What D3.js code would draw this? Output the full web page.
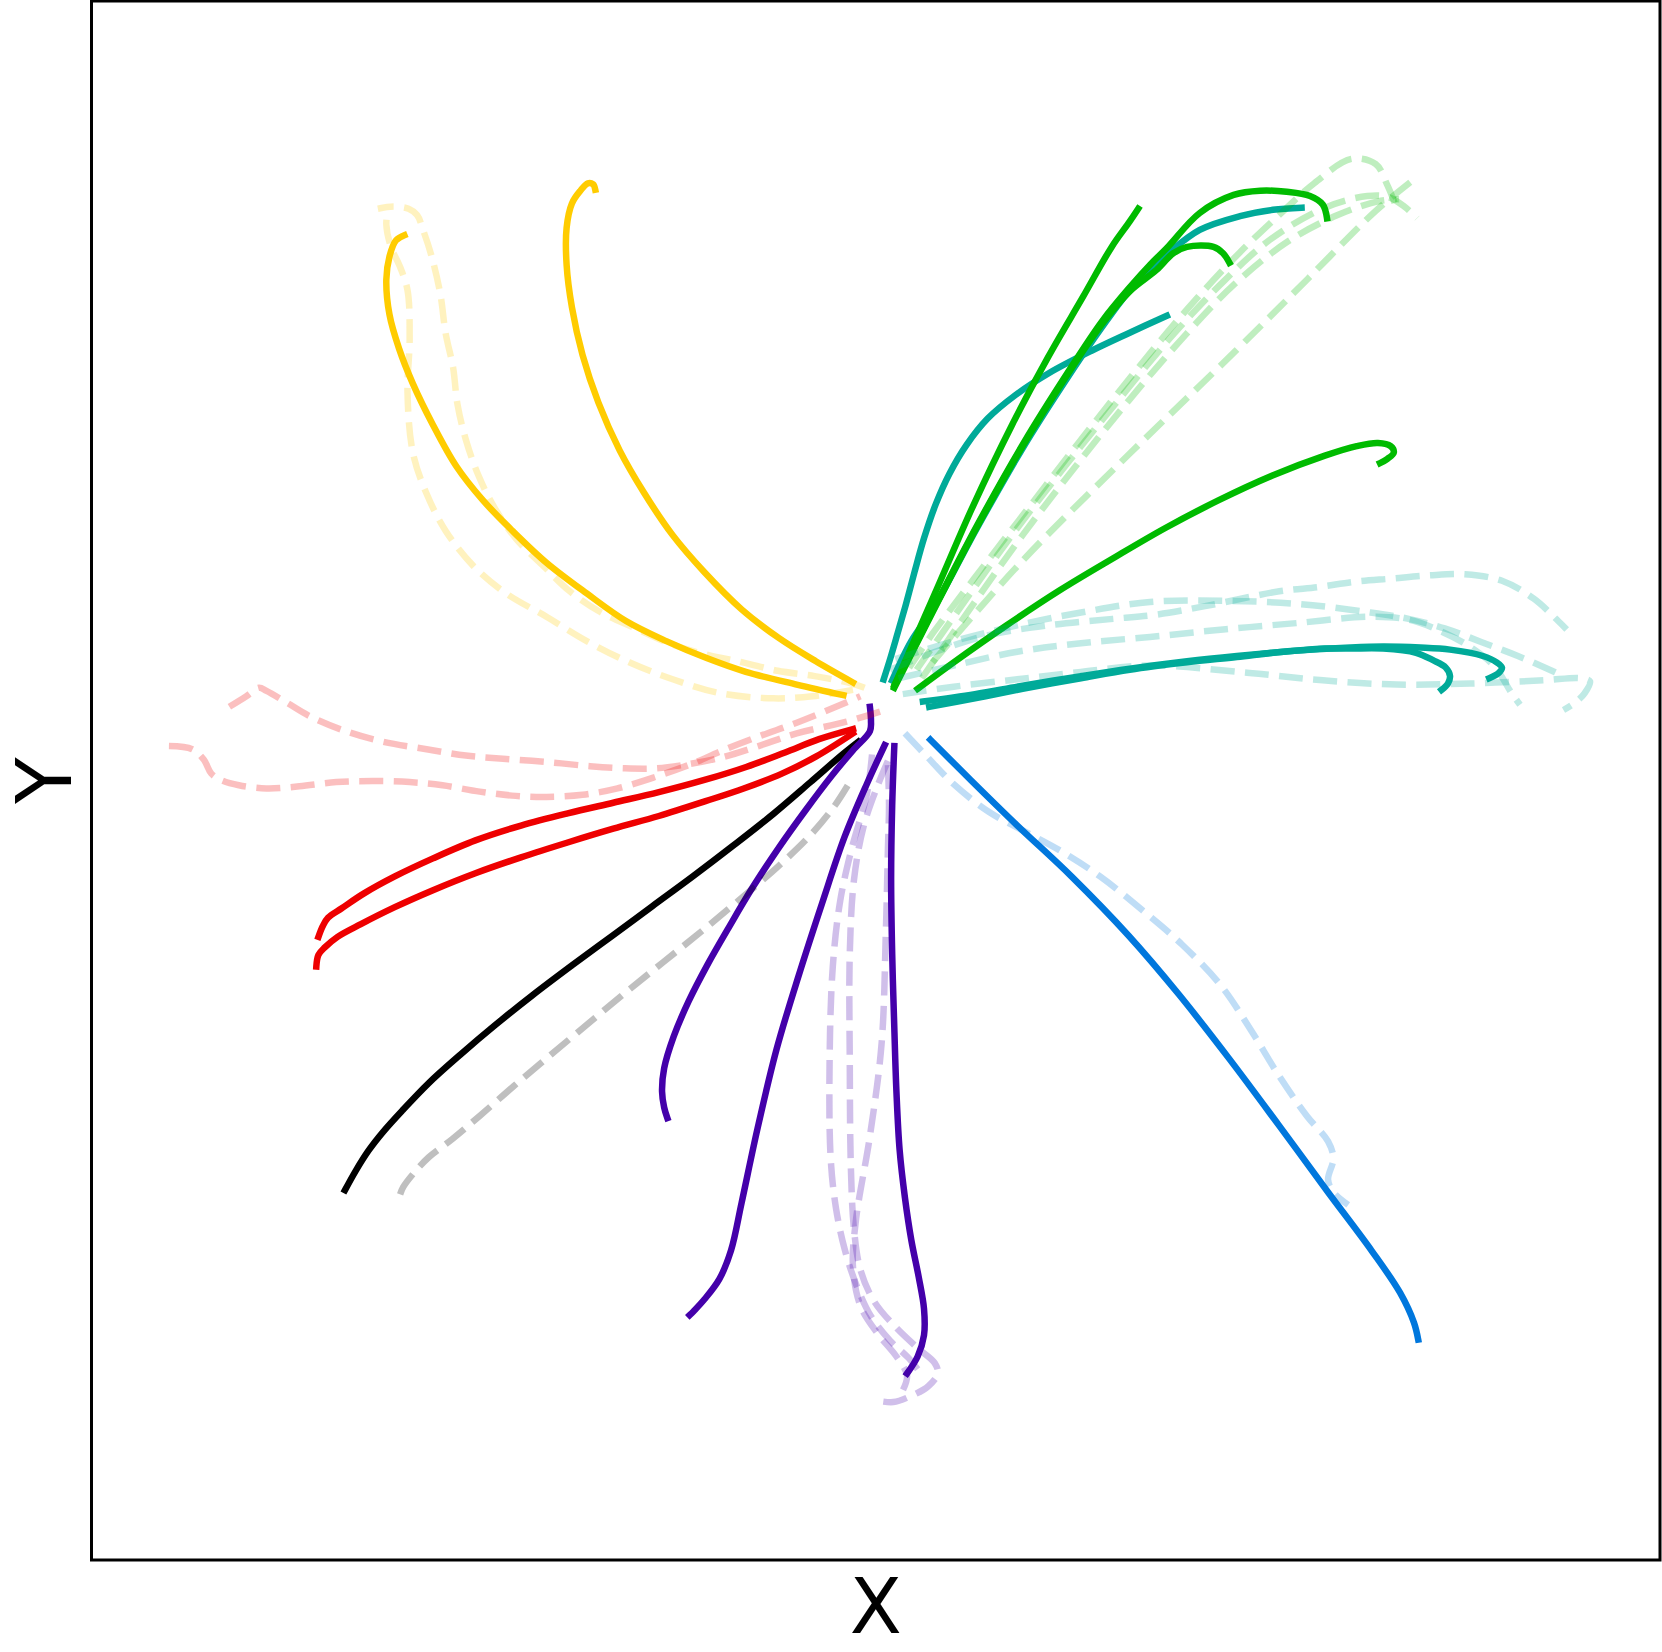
<!DOCTYPE html>
<html><head><meta charset="utf-8">
<script src="https://cdn.jsdelivr.net/npm/d3@7"></script>
<style>body{margin:0;background:#fff}</style>
</head><body>
<svg id="chart" width="1662" height="1652"></svg>
<script>
// ---------- data (arbitrary units, x: 0..147.9, y: 0..147.1) ----------
const yellowA = [[70.9,81.6],[66.5,82.6],[61.7,83.8],[58.0,85.1],[54.2,86.7],[50.4,88.6],[46.7,91.2],[42.9,94.1],[39.7,97.1],[36.9,100.0],[34.4,103.2],[32.2,107.1],[30.3,111.0],[29.0,114.3],[28.1,117.5],[27.8,120.8],[28.1,123.0],[28.7,124.5],[29.5,125.0]];
const yellowB = [[71.8,82.8],[68.3,84.8],[64.8,87.0],[61.3,89.7],[57.8,93.2],[54.8,96.7],[52.1,100.7],[49.8,104.7],[47.8,109.2],[46.3,113.7],[45.3,118.2],[44.8,122.2],[44.8,125.7],[45.3,128.0],[46.1,129.2],[46.8,129.9],[47.3,129.8],[47.5,129.3]];
const yellowD1 = [[71.8,82.1],[68.0,81.5],[64.3,81.3],[59.2,81.8],[54.8,83.1],[50.7,84.7],[46.7,86.7],[42.9,89.0],[39.1,91.2],[36.0,93.8],[33.4,97.1],[31.6,100.6],[30.3,104.5],[29.8,110.1],[30.0,115.3],[29.8,119.8],[29.1,122.0],[28.2,124.0],[27.8,126.0],[27.9,127.1]];
const yellowD2 = [[72.9,82.3],[71.7,82.7],[68.2,83.4],[64.7,83.9],[61.4,84.7],[58.1,85.4],[54.7,86.4],[51.1,88.0],[47.9,89.5],[45.1,91.4],[42.7,93.7],[40.0,96.4],[38.0,99.3],[36.5,102.3],[35.3,105.7],[34.5,109.1],[34.1,112.5],[33.4,115.7],[32.9,119.4],[32.1,122.9],[31.3,125.4],[30.7,126.9],[29.9,127.5],[28.5,127.7],[27.0,127.5]];

const redA = [[21.4,58.8],[21.8,59.8],[22.3,60.6],[23.6,61.5],[25.7,62.9],[28.6,64.5],[32.2,66.2],[36.2,67.9],[40.5,69.3],[44.9,70.45],[49.2,71.45],[53.5,72.45],[57.8,73.6],[61.8,74.85],[65.4,76.2],[68.6,77.45],[71.8,78.4]];
const redB = [[21.2,56.0],[21.4,57.1],[22.0,57.8],[23.2,58.8],[25.4,60.0],[28.6,61.6],[32.2,63.2],[36.2,64.8],[40.5,66.3],[44.9,67.7],[49.2,69.0],[53.5,70.2],[57.9,71.6],[61.5,72.8],[65.1,74.2],[68.3,75.8],[71.8,78.0]];
const redD1 = [[13.0,80.5],[14.6,81.5],[15.8,82.3],[16.5,82.0],[18.4,80.9],[20.6,79.6],[23.7,78.3],[27.5,77.2],[31.6,76.5],[35.3,75.9],[38.8,75.6],[42.9,75.3],[47.0,74.9],[50.3,74.7],[53.2,74.7],[55.7,75.0],[59.3,75.7],[62.9,76.8],[66.5,78.0],[71.2,79.1],[74.5,80.1]];
const redD2 = [[7.3,76.8],[9.5,76.5],[10.6,75.5],[11.3,74.2],[12.2,73.6],[13.9,73.1],[16.5,72.8],[19.6,73.0],[23.1,73.4],[26.5,73.5],[30.0,73.4],[33.1,73.1],[36.6,72.5],[40.0,72.1],[42.9,72.0],[46.3,72.2],[49.6,72.8],[53.2,73.9],[56.8,75.2],[59.3,76.3],[62.9,77.7],[66.5,79.0],[70.2,80.5],[72.5,81.5]];

const blackA = [[23.9,34.9],[24.9,36.7],[26.1,38.6],[27.5,40.4],[29.3,42.4],[31.8,45.0],[34.8,47.7],[38.1,50.5],[41.6,53.3],[45.3,56.1],[49.1,58.9],[52.9,61.7],[56.7,64.5],[60.5,67.4],[64.3,70.4],[67.8,73.4],[70.8,76.0],[72.3,77.2]];
const blackD = [[29.1,34.5],[29.4,35.2],[30.3,36.4],[31.8,38.0],[34.0,39.7],[36.6,41.9],[39.8,44.7],[43.1,47.5],[46.7,50.5],[50.3,53.5],[53.9,56.4],[57.5,59.3],[61.1,62.3],[64.7,65.4],[67.8,68.4],[70.1,71.2],[71.5,73.4]];

const purpleA = [[54.3,41.7],[54.0,42.7],[53.8,44.2],[54.0,46.4],[54.9,49.4],[56.3,52.7],[58.1,56.2],[60.1,59.7],[62.3,63.4],[64.8,67.2],[67.3,70.7],[69.8,74.0],[71.8,76.4],[73.4,78.2],[73.5,79.2],[73.4,80.5]];
const purpleB = [[74.8,76.9],[73.1,73.2],[71.0,68.2],[68.9,62.0],[66.7,55.2],[64.6,48.2],[62.8,40.7],[61.3,33.7],[60.3,29.2],[59.2,26.5],[57.8,24.6],[56.8,23.5],[56.4,23.1]];
const purpleC = [[75.7,76.8],[75.5,71.2],[75.4,64.2],[75.5,57.2],[75.7,50.2],[75.9,44.2],[76.2,38.7],[76.7,34.2],[77.3,30.2],[78.0,26.7],[78.5,23.7],[78.5,21.2],[77.9,19.2],[76.9,17.6]];
const purpleD1 = [[73.6,76.0],[73.1,72.2],[71.7,67.2],[70.6,62.2],[69.9,56.0],[69.6,47.2],[69.7,37.9],[70.2,33.2],[71.0,29.4],[72.1,26.0],[73.5,23.0],[75.3,20.7],[77.1,19.0],[77.9,18.0]];
const purpleD2 = [[75.1,75.4],[74.1,73.0],[72.8,69.2],[71.9,64.2],[71.5,57.2],[71.5,47.2],[71.6,37.2],[71.9,31.2],[72.5,27.4],[73.8,24.4],[75.8,22.0],[77.9,20.0],[79.5,18.6],[79.8,17.6],[78.9,16.4],[77.1,15.4],[75.6,14.9],[74.3,15.0]];
const purpleD3 = [[75.1,75.0],[75.2,71.2],[75.1,67.2],[74.9,59.2],[74.5,48.7],[73.4,40.0],[72.1,32.2],[71.8,27.7],[72.5,24.0],[74.1,21.4],[75.9,19.2],[76.9,17.4],[76.5,16.0]];

const blueA = [[79.1,77.4],[82.9,73.6],[87.3,69.3],[92.4,64.5],[97.8,58.9],[102.5,53.4],[107.2,47.4],[111.9,41.1],[116.6,34.7],[120.7,29.2],[123.4,25.2],[124.7,22.4],[125.1,20.8]];
const blueD = [[76.7,78.0],[78.6,76.0],[81.3,73.2],[84.6,70.6],[87.7,68.9],[91.4,66.9],[95.1,64.5],[99.1,61.3],[102.8,58.1],[106.5,54.2],[109.2,50.2],[111.9,45.8],[114.6,41.9],[116.6,39.5],[117.1,37.9],[116.6,35.9],[117.1,34.7],[118.5,33.5]];

const tealA = [[74.7,83.1],[75.3,85.0],[76.0,87.4],[76.8,90.2],[77.6,93.2],[78.5,96.4],[79.6,99.6],[80.9,102.5],[82.5,105.2],[84.5,107.7],[87.1,109.9],[90.3,112.0],[94.3,114.1],[97.9,115.8],[101.4,117.4]];
const tealB = [[75.5,83.0],[77.3,86.7],[79.4,89.8],[83.4,97.2],[87.8,104.9],[91.8,111.2],[95.2,116.2],[97.9,119.8],[100.6,122.5],[101.4,123.2],[104.5,125.5],[108.3,126.8],[111.4,127.4],[114.1,127.6]];
const tealC = [[78.4,81.0],[83.3,81.7],[87.8,82.5],[93.3,83.4],[97.9,84.1],[103.3,84.8],[108.0,85.3],[112.4,85.7],[116.3,86.0],[118.7,86.0],[121.8,86.0],[124.9,85.6],[126.5,84.9],[127.7,84.2],[128.1,83.4],[127.9,82.7],[127.3,82.1]];
const tealE = [[79.0,80.5],[83.3,81.3],[87.8,82.2],[93.3,83.2],[97.9,84.0],[103.3,84.7],[108.0,85.2],[112.4,85.7],[118.7,86.1],[121.8,86.2],[125.3,86.1],[128.1,85.9],[131.2,85.3],[132.5,84.7],[133.0,84.2],[132.7,83.7],[131.8,83.2]];
const tealD1 = [[75.3,84.0],[79.3,85.6],[84.3,87.2],[90.3,88.2],[96.3,88.8],[100.4,89.2],[105.0,90.0],[112.0,91.4],[115.7,91.8],[119.1,92.3],[122.6,92.6],[126.1,92.9],[129.5,93.0],[133.0,92.4],[136.0,90.7],[138.3,88.6],[139.1,87.8]];
const tealD2 = [[75.8,85.0],[81.3,86.7],[87.3,88.2],[93.3,89.4],[99.8,90.4],[107.0,90.5],[113.9,90.2],[120.6,89.4],[124.2,88.8],[127.6,87.9],[131.1,86.6],[134.5,85.3],[137.7,83.9],[138.8,83.4]];
const tealD3 = [[76.1,83.2],[81.3,84.4],[87.3,85.7],[93.3,86.5],[99.8,87.1],[106.7,87.8],[113.6,88.4],[120.6,89.0],[124.3,88.7],[127.3,87.6],[130.1,86.1],[132.3,84.3],[133.9,81.8],[134.7,80.7]];
const tealD4 = [[76.5,81.7],[81.3,82.4],[87.3,83.1],[93.3,83.8],[99.8,84.4],[109.2,83.7],[116.1,83.0],[123.1,82.6],[130.0,82.7],[136.9,83.0],[140.4,83.2],[141.3,82.9],[140.8,81.8],[139.9,80.9],[138.8,80.2]];

const greenA = [[75.7,82.5],[79.4,90.9],[83.1,99.4],[86.8,107.1],[90.2,113.5],[93.5,119.2],[96.2,123.9],[97.9,126.3],[98.7,127.5]];
const greenB = [[75.7,82.3],[79.4,89.6],[83.4,97.3],[87.8,105.1],[91.8,111.5],[95.2,116.5],[97.9,119.7],[100.4,121.7],[102.0,123.3],[103.3,123.9],[105.8,123.9],[106.7,123.3],[107.3,122.4]];
const greenC = [[75.8,82.7],[79.5,89.9],[83.5,97.6],[87.9,105.4],[91.9,111.8],[95.3,116.9],[98.0,120.2],[99.8,122.2],[101.4,123.8],[104.5,127.1],[107.7,128.8],[110.2,129.2],[112.7,129.1],[114.9,128.7],[116.1,127.9],[116.5,126.6]];
const greenE = [[77.9,82.2],[81.3,84.7],[86.3,88.2],[91.3,91.5],[96.3,94.5],[101.3,97.4],[106.3,100.0],[111.3,102.3],[116.3,104.2],[119.3,105.1],[121.3,105.4],[122.5,105.1],[122.8,104.5],[122.2,103.9],[121.5,103.5]];
const greenD1 = [[77.1,84.2],[79.3,87.4],[83.3,92.7],[88.3,99.2],[93.3,105.7],[98.3,112.0],[103.3,118.0],[108.3,123.4],[112.3,127.2],[115.3,129.9],[118.8,132.2],[121.1,131.7],[122.2,129.7],[122.9,128.0]];
const greenD2 = [[77.8,84.0],[81.8,89.7],[86.8,96.7],[91.8,103.2],[96.8,109.4],[101.8,115.4],[106.8,120.7],[111.3,124.7],[116.3,127.6],[120.3,128.7],[122.3,128.6],[123.8,127.7],[125.0,126.6]];
const greenD3 = [[79.3,84.7],[87.8,94.3],[97.9,104.4],[108.0,114.2],[114.7,120.9],[121.1,127.3],[124.6,130.2]];
const greenD4 = [[78.3,83.2],[82.8,89.7],[87.8,96.7],[92.8,103.2],[97.8,109.4],[102.8,115.2],[107.8,120.4],[112.8,124.4],[117.5,126.9],[121.3,128.2],[123.3,128.4]];

const xLabel = "X", yLabel = "Y";

// ---------- styling ----------
const colors = {yellow:"#FFCC00", red:"#EE0000", black:"#000000", purple:"#4400AA", blue:"#0077DD", teal:"#00AA99", green:"#00BB00"};
const solidSeries = [
  [yellowA,"yellow"],[yellowB,"yellow"],[redA,"red"],[redB,"red"],[blackA,"black"],
  [purpleA,"purple"],[purpleB,"purple"],[purpleC,"purple"],[blueA,"blue"],
  [tealA,"teal"],[tealB,"teal"],[tealC,"teal"],[tealE,"teal"],
  [greenA,"green"],[greenB,"green"],[greenC,"green"],[greenE,"green"]
];
const dashedSeries = [
  [yellowD1,"yellow"],[yellowD2,"yellow"],[redD1,"red"],[redD2,"red"],[blackD,"black"],
  [purpleD1,"purple"],[purpleD2,"purple"],[purpleD3,"purple"],[blueD,"blue"],
  [tealD1,"teal"],[tealD2,"teal"],[tealD3,"teal"],[tealD4,"teal"],
  [greenD1,"green"],[greenD2,"green"],[greenD3,"green"],[greenD4,"green"]
];

const plot = {left:91.5, top:1, right:1660, bottom:1560};
const x = d3.scaleLinear().domain([0,147.9]).range([plot.left, plot.right]);
const y = d3.scaleLinear().domain([0,147.1]).range([plot.bottom, plot.top]);

const svg = d3.select("#chart");
svg.append("rect").attr("width",1662).attr("height",1652).attr("fill","#fff");

const line = d3.line().x(d=>x(d[0])).y(d=>y(d[1])).curve(d3.curveCatmullRom.alpha(0.5));

const g = svg.append("g");
g.selectAll("path.solid").data(solidSeries).join("path")
  .attr("class","solid")
  .attr("d", d=>line(d[0]))
  .attr("fill","none")
  .attr("stroke", d=>colors[d[1]])
  .attr("stroke-width",6.5)
  .attr("stroke-linecap","square")
  .attr("stroke-linejoin","round");

g.selectAll("path.dashed").data(dashedSeries).join("path")
  .attr("class","dashed")
  .attr("d", d=>line(d[0]))
  .attr("fill","none")
  .attr("stroke", d=>colors[d[1]])
  .attr("stroke-opacity",0.25)
  .attr("stroke-width",6.5)
  .attr("stroke-dasharray","24 10.4")
  .attr("stroke-linecap","butt")
  .attr("stroke-linejoin","round");

// frame
svg.append("rect")
  .attr("x",plot.left).attr("y",plot.top)
  .attr("width",plot.right-plot.left).attr("height",plot.bottom-plot.top)
  .attr("fill","none").attr("stroke","#000").attr("stroke-width",3);

// axis labels
svg.append("text").text(xLabel)
  .attr("x",(plot.left+plot.right)/2).attr("y",1633)
  .attr("text-anchor","middle")
  .attr("font-family","DejaVu Sans").attr("font-size",76).attr("fill","#000");
svg.append("text").text(yLabel)
  .attr("transform",`translate(71,${(plot.top+plot.bottom)/2}) rotate(-90)`)
  .attr("text-anchor","middle")
  .attr("font-family","DejaVu Sans").attr("font-size",76).attr("fill","#000");
</script>
</body></html>
